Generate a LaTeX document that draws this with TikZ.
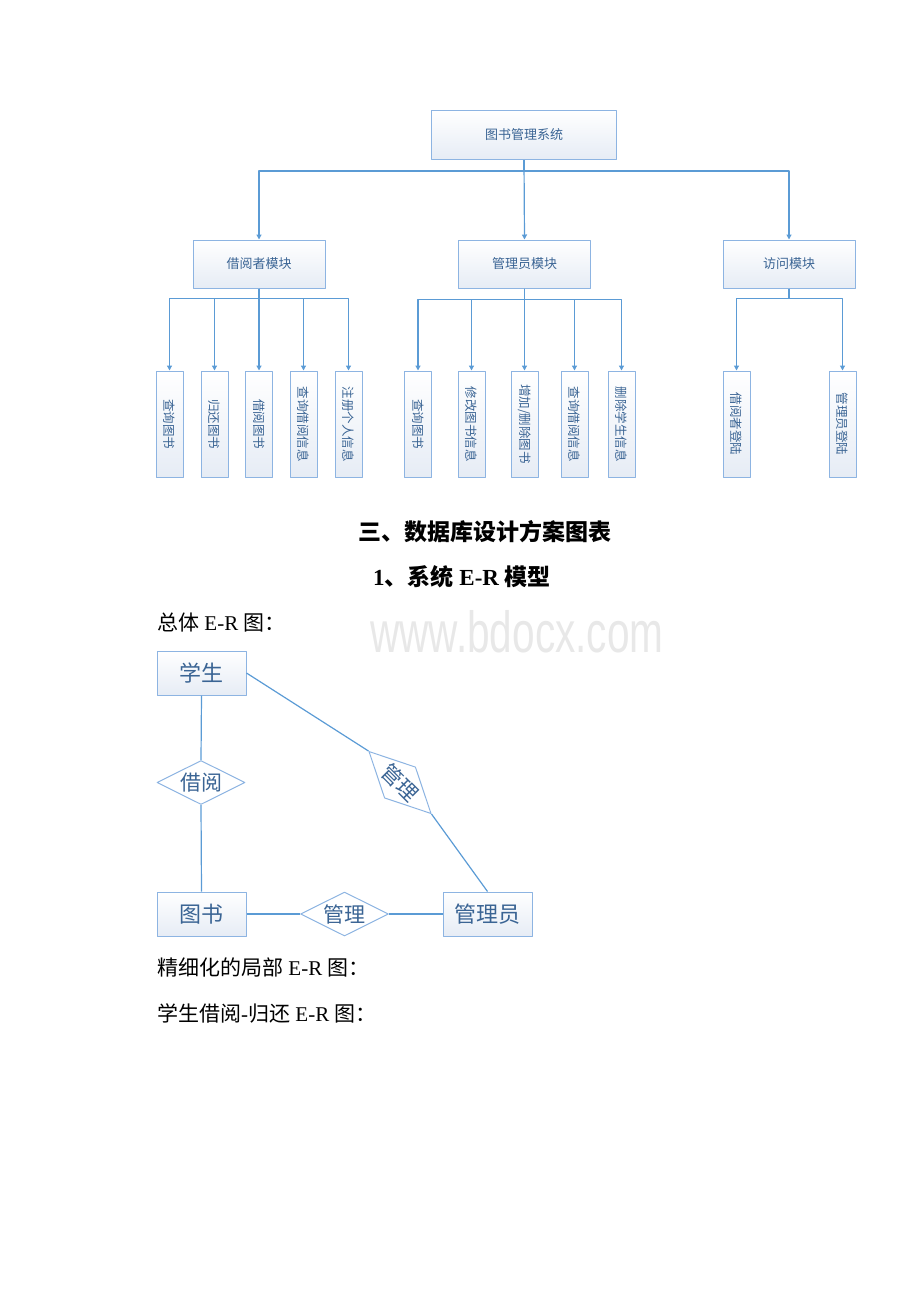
\documentclass[tikz,border=0pt]{standalone}
\usepackage{fontspec}
\setmainfont{Liberation Serif}
\newfontfamily\cjk{Noto Sans CJK SC}
\newfontfamily\tnr{Liberation Serif}
\newfontfamily\wmfont{Liberation Sans}
\usetikzlibrary{arrows.meta,shapes.geometric}

\definecolor{lnblue}{HTML}{5B9BD5}
\definecolor{bxedge}{HTML}{8DB4E2}
\definecolor{txblue}{HTML}{3A6494}
\definecolor{bxfill}{HTML}{E6ECF5}
\definecolor{wmgray}{HTML}{E8E8E8}

\begin{document}
\begin{tikzpicture}[x=1pt, y=-1pt, line join=round, >={Triangle[width=5pt,length=5pt]},
	mokuai/.style={draw=bxedge, line width=1pt, top color=white, bottom color=bxfill, text=txblue,
		inner sep=0pt, font=\cjk\fontsize{13}{13}\selectfont},
	xitong/.style={mokuai, minimum width=185, minimum height=49},
	zimokuai/.style={mokuai, minimum width=132, minimum height=48},
	gongneng/.style={mokuai, rotate=-90, minimum width=106, minimum height=27,
		font=\cjk\fontsize{12.5}{12.5}\selectfont},
	shiti/.style={mokuai, minimum width=89, minimum height=44, font=\cjk\fontsize{22}{22}\selectfont},
	lianxi/.style={diamond, draw=bxedge, line width=1pt, fill=white, text=txblue, inner sep=0pt,
		aspect=2, minimum width=88, minimum height=44, font=\cjk\fontsize{21}{21}\selectfont},
	xian/.style={draw=lnblue, line width=1.2pt},
	zhengwen/.style={inner sep=0pt, font=\fontsize{21}{21}\selectfont},
	biaoti/.style={inner sep=0pt, font=\bfseries\fontsize{23}{23}\selectfont}]
	
	% 页面大小
	\useasboundingbox (0,0) rectangle (920,1302);
	
	% 功能模块图
	\node[xitong] (sys) at (524,135) {图书管理系统};
	\node[zimokuai] (jyz) at (259,264) {借阅者模块};
	\node[zimokuai] (gly) at (524.5,264) {管理员模块};
	\node[zimokuai] (fw) at (789,264) {访问模块};
	
	\draw[xian, ->] (sys.south) -- ++(0,11) -| (jyz.north);
	\draw[xian, ->] (sys.south) -- (gly.north);
	\draw[xian, ->] (sys.south) -- ++(0,11) -| (fw.north);
	
	% 借阅者模块
	\node[gongneng] (cx1) at (169.5,424) {查询图书};
	\node[gongneng] (gh) at (214.5,424) {归还图书};
	\node[gongneng] (jy) at (259,424) {借阅图书};
	\node[gongneng] (cxjy1) at (303.5,424) {查询借阅信息};
	\node[gongneng] (zc) at (348.5,424) {注册个人信息};
	\foreach \n in {cx1,gh,jy,cxjy1,zc}
		\draw[xian, ->] (jyz.south) -- ++(0,10) -| (\n.west);
	
	% 管理员模块
	\node[gongneng] (cx2) at (418,424) {查询图书};
	\node[gongneng] (xg) at (471.5,424) {修改图书信息};
	\node[gongneng] (zj) at (524.5,424) {增加/删除图书};
	\node[gongneng] (cxjy2) at (574.5,424) {查询借阅信息};
	\node[gongneng] (sc) at (621.5,424) {删除学生信息};
	\foreach \n in {cx2,xg,zj,cxjy2,sc}
		\draw[xian, ->] (gly.south) -- ++(0,11) -| (\n.west);
	
	% 访问模块
	\node[gongneng] (jydl) at (736.5,424) {借阅者登陆};
	\node[gongneng] (gldl) at (842.5,424) {管理员登陆};
	\foreach \n in {jydl,gldl}
		\draw[xian, ->] (fw.south) -- ++(0,10) -| (\n.west);
	
	% 标题和正文
	\node[biaoti] (bt1) at (484.5,532) {\cjk 三、数据库设计方案图表};
	\node[biaoti] (bt2) at (462,577) {\tnr 1\cjk 、系统\tnr{} E-R \cjk 模型};
	\node[zhengwen, anchor=west] (zt) at (157,623) {\cjk 总体\tnr{} E-R \cjk 图：};
	
	% 水印
	\node[text=wmgray, inner sep=0pt, anchor=base] (sy) at (517,652)
		{\scalebox{0.7}[1]{\wmfont\fontsize{58}{58}\selectfont www.bdocx.com}};
	
	% 总体E-R图
	\node[shiti] (xs) at (201.5,673) {学生};
	\node[shiti] (ts) at (201.5,914) {图书};
	\node[shiti] (glyr) at (487.5,914) {管理员};
	\node[lianxi] (jyue) at (201,782.5) {借阅};
	\node[lianxi] (gl1) at (344.5,914) {管理};
	\node[lianxi, rotate=-45] (gl2) at (400,782.5) {管理};
	
	\draw[xian] (xs.south) -- (jyue.north);
	\draw[xian] (jyue.south) -- (ts.north);
	\draw[xian] (ts.east) -- (gl1.west);
	\draw[xian] (gl1.east) -- (glyr.west);
	\draw[xian] (xs.east) -- (gl2.west);
	\draw[xian] (gl2.east) -- (glyr.north);
	
	% 后面的正文
	\node[zhengwen, anchor=west] (jx) at (157,967) {\cjk 精细化的局部\tnr{} E-R \cjk 图：};
	\node[zhengwen, anchor=west] (jg) at (157,1013) {\cjk 学生借阅\tnr{}-\cjk 归还\tnr{} E-R \cjk 图：};
	
\end{tikzpicture}
\end{document}
